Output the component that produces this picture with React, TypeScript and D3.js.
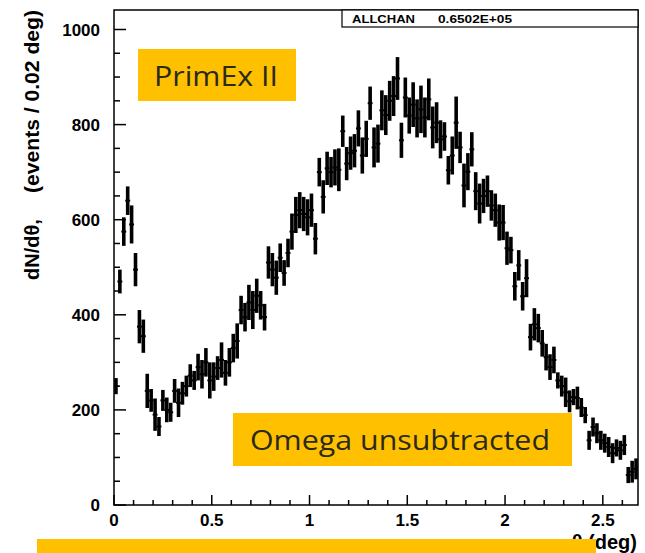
import React from "react";
import * as d3 from "d3";

const binWidth = 0.02;
const counts = [
  250, 470, 575, 640, 590, 495, 375, 355,
  240, 220, 190, 165, 220, 200, 195, 240, 215, 235, 250, 272, 262,
  290, 275, 300, 262, 270, 288, 305, 278, 300, 330, 345,
  410, 395, 426, 410, 440, 420, 395, 510, 495, 478, 520, 488, 530, 575, 610, 620, 612, 605, 620,
  560, 700, 648, 708, 700, 710, 705, 786, 718, 740, 745, 792, 735, 770, 845, 752, 760, 830, 820, 850, 860, 897,
  767, 857, 819, 842, 813, 832, 815, 853, 794, 804, 769, 775, 704, 735, 804, 752, 672, 701, 748, 660, 634, 650, 660, 630, 620, 594, 594, 540,
  536, 460, 504, 439, 477, 353, 380, 372, 340, 311, 290, 305, 262, 250, 237, 218, 227, 225, 205, 189,
  136, 164, 151, 136, 130, 122, 109, 120, 115, 126, 63, 70, 76,
];
const errors = [
  17, 25, 30, 30, 40, 35, 35, 35,
  36, 24, 34, 20, 22, 26, 20, 25, 30, 24, 22, 24, 20,
  28, 30, 30, 38, 30, 25, 37, 27, 30, 30, 37,
  30, 30, 37, 40, 36, 30, 28, 34, 35, 36, 30, 27, 30, 38, 38, 38, 36, 38, 35,
  33, 30, 35, 35, 32, 38, 45, 33, 35, 35, 35, 38, 38, 38, 35, 42, 40, 42, 42, 42, 42, 45,
  37, 42, 38, 47, 40, 50, 42, 44, 44, 43, 40, 30, 30, 40, 55, 33, 46, 39, 36, 40, 42, 36, 33, 32, 35, 38, 37, 35,
  28, 30, 32, 30, 40, 28, 34, 30, 28, 28, 27, 28, 17, 22, 31, 23, 17, 24, 20, 17,
  20, 20, 21, 20, 20, 21, 21, 18, 20, 21, 17, 23, 22,
];
const yMajor = [0, 200, 400, 600, 800, 1000];
const yLabels = ["0", "200", "400", "600", "800", "1000"];
const xMajor = [0, 0.5, 1, 1.5, 2, 2.5];
const xLabels = ["0", "0.5", "1", "1.5", "2", "2.5"];
const statName = "ALLCHAN";
const statValue = "0.6502E+05";
const title1 = "PrimEx II";
const title2 = "Omega unsubtracted";
const yTitleA = "dN/dθ,";
const yTitleB = "(events / 0.02 deg)";
const xTitle = "θ   (deg)";

export default function App() {
  const L = 114, R = 638, T = 10, B = 505;
  const x = d3.scaleLinear().domain([0, 2.68]).range([L, R]);
  const y = d3.scaleLinear().domain([0, 1041]).range([B, T]);
  const yMinor = d3.range(0, 1041, 50);
  const xMinor = d3.range(0, 2.681, 0.1);
  const orange = "#FFC000";
  const tickFont = "'Liberation Sans', Arial, sans-serif";
  const boxFont = "'Open Sans', sans-serif";

  return (
    <svg width={645} height={553} style={{ position: "absolute", left: 0, top: 0, background: "#fff" }}>
      <rect x={0} y={0} width={645} height={553} fill="#fff" />
      <defs>
        <clipPath id="plotClip">
          <rect x={L} y={T} width={R - L} height={B - T} />
        </clipPath>
      </defs>
      {/* data */}
      <g clipPath="url(#plotClip)">
        {counts.map((v, i) => {
          const e = errors[i];
          const x0 = x(i * binWidth);
          const x1 = x((i + 1) * binWidth);
          const cx = (x0 + x1) / 2;
          return (
            <g key={i}>
              <line x1={cx} x2={cx} y1={y(v - e)} y2={y(v + e)} stroke="#000" strokeWidth={3.6} />
              <line x1={x0 - 0.5} x2={x1 + 0.5} y1={y(v)} y2={y(v)} stroke="#000" strokeWidth={2} />
            </g>
          );
        })}
      </g>
      {/* frame */}
      <rect x={L} y={T} width={R - L} height={B - T} fill="none" stroke="#000" strokeWidth={1.5} />
      {/* y ticks */}
      {yMinor.map((v) => (
        <line key={"ym" + v} x1={L} x2={L + (v % 200 === 0 ? 12 : 6)} y1={y(v)} y2={y(v)} stroke="#000" strokeWidth={1.5} />
      ))}
      {yMajor.map((v, i) => (
        <text key={"yl" + v} x={L - 14} y={y(v)} dy="0.36em" textAnchor="end" fontFamily={tickFont} fontWeight="bold" fontSize={17} fill="#000">
          {yLabels[i]}
        </text>
      ))}
      {/* x ticks */}
      {xMinor.map((v, k) => (
        <line key={"xm" + k} x1={x(v)} x2={x(v)} y1={B} y2={B - (k % 5 === 0 ? 10 : 5)} stroke="#000" strokeWidth={1.5} />
      ))}
      {xMajor.map((v, i) => (
        <text key={"xl" + v} x={x(v)} y={526} textAnchor="middle" fontFamily={tickFont} fontWeight="bold" fontSize={17} fill="#000">
          {xLabels[i]}
        </text>
      ))}
      {/* stat box */}
      <rect x={342} y={T} width={R - 342} height={17} fill="#fff" stroke="#000" strokeWidth={1.2} />
      <text x={352} y={23} fontFamily={tickFont} fontWeight="bold" fontSize={10} fill="#000" textLength={63} lengthAdjust="spacingAndGlyphs">
        {statName}
      </text>
      <text x={438} y={23} fontFamily={tickFont} fontWeight="bold" fontSize={10} fill="#000" textLength={74} lengthAdjust="spacingAndGlyphs">
        {statValue}
      </text>
      {/* axis titles */}
      <text transform="translate(39,280) rotate(-90)" fontFamily={tickFont} fontWeight="bold" fontSize={20} fill="#000">
        {yTitleA}
      </text>
      <text transform="translate(39,193) rotate(-90)" fontFamily={tickFont} fontWeight="bold" fontSize={20} fill="#000" textLength={183} lengthAdjust="spacingAndGlyphs">
        {yTitleB}
      </text>
      <text x={637} y={549} textAnchor="end" fontFamily={tickFont} fontWeight="bold" fontSize={20} fill="#000">
        {xTitle}
      </text>
      {/* annotation boxes */}
      <rect x={138} y={49} width={158} height={52} fill={orange} />
      <text x={154} y={86} fontFamily={boxFont} fontSize={28} fill="#2a2a18" textLength={124} lengthAdjust="spacingAndGlyphs">
        {title1}
      </text>
      <rect x={233} y={413} width={339} height={53} fill={orange} />
      <text x={250} y={450} fontFamily={boxFont} fontSize={28} fill="#2a2a18" textLength={300} lengthAdjust="spacingAndGlyphs">
        {title2}
      </text>
      <rect x={37} y={539} width={559} height={20} fill={orange} />
    </svg>
  );
}
